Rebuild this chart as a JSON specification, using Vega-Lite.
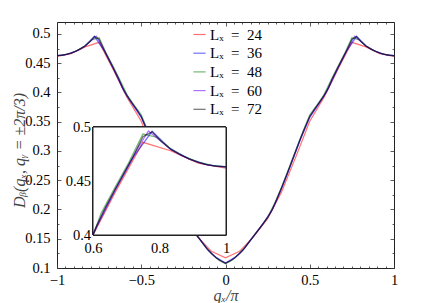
{
"$schema": "https://vega.github.io/schema/vega-lite/v6.json",
"width": 337, "height": 246,
"autosize": {"type": "none"},
"padding": {"left": 57, "top": 22, "right": 42, "bottom": 35},
"background": "white",
"config": {
 "view": {"stroke": "#222", "strokeWidth": 1},
 "axis": {"labelFont": "Liberation Serif", "labelFontSize": 14.5, "labelColor": "#000", "domain": false, "grid": false, "tickColor": "#333", "tickWidth": 0.8, "labelFlush": false, "labelOverlap": false, "zindex": 1, "titleFont": "Liberation Serif", "titleFontSize": 16, "titleFontWeight": "normal", "titleFontStyle": "italic", "titleColor": "#444"}
},
"data": {"values": [
{"L":24,"q":-1,"v":0.4618},{"L":24,"q":-0.9167,"v":0.4665},{"L":24,"q":-0.8333,"v":0.478},{"L":24,"q":-0.75,"v":0.4858},{"L":24,"q":-0.6667,"v":0.4395},{"L":24,"q":-0.5833,"v":0.391},{"L":24,"q":-0.5,"v":0.351},{"L":24,"q":-0.4167,"v":0.2895},{"L":24,"q":-0.3333,"v":0.2305},{"L":24,"q":-0.25,"v":0.1845},{"L":24,"q":-0.1667,"v":0.1535},{"L":24,"q":-0.0833,"v":0.1285},{"L":24,"q":0,"v":0.1175},{"L":24,"q":0.0833,"v":0.1285},{"L":24,"q":0.1667,"v":0.1535},{"L":24,"q":0.25,"v":0.1845},{"L":24,"q":0.3333,"v":0.2305},{"L":24,"q":0.4167,"v":0.2895},{"L":24,"q":0.5,"v":0.351},{"L":24,"q":0.5833,"v":0.391},{"L":24,"q":0.6667,"v":0.4395},{"L":24,"q":0.75,"v":0.4858},{"L":24,"q":0.8333,"v":0.478},{"L":24,"q":0.9167,"v":0.4665},{"L":24,"q":1,"v":0.4618},
{"L":36,"q":-1,"v":0.463},{"L":36,"q":-0.9444,"v":0.465},{"L":36,"q":-0.8889,"v":0.4705},{"L":36,"q":-0.8333,"v":0.4795},{"L":36,"q":-0.7778,"v":0.496},{"L":36,"q":-0.7222,"v":0.4725},{"L":36,"q":-0.6667,"v":0.4415},{"L":36,"q":-0.6111,"v":0.4075},{"L":36,"q":-0.5556,"v":0.3815},{"L":36,"q":-0.5,"v":0.3575},{"L":36,"q":-0.4444,"v":0.3195},{"L":36,"q":-0.3889,"v":0.2775},{"L":36,"q":-0.3333,"v":0.2365},{"L":36,"q":-0.2778,"v":0.1995},{"L":36,"q":-0.2222,"v":0.1755},{"L":36,"q":-0.1667,"v":0.1545},{"L":36,"q":-0.1111,"v":0.1335},{"L":36,"q":-0.0556,"v":0.1178},{"L":36,"q":0,"v":0.1085},{"L":36,"q":0.0556,"v":0.1178},{"L":36,"q":0.1111,"v":0.1335},{"L":36,"q":0.1667,"v":0.1545},{"L":36,"q":0.2222,"v":0.1755},{"L":36,"q":0.2778,"v":0.1995},{"L":36,"q":0.3333,"v":0.2365},{"L":36,"q":0.3889,"v":0.2775},{"L":36,"q":0.4444,"v":0.3195},{"L":36,"q":0.5,"v":0.3575},{"L":36,"q":0.5556,"v":0.3815},{"L":36,"q":0.6111,"v":0.4075},{"L":36,"q":0.6667,"v":0.4415},{"L":36,"q":0.7222,"v":0.4725},{"L":36,"q":0.7778,"v":0.496},{"L":36,"q":0.8333,"v":0.4795},{"L":36,"q":0.8889,"v":0.4705},{"L":36,"q":0.9444,"v":0.465},{"L":36,"q":1,"v":0.463},
{"L":48,"q":-1,"v":0.4632},{"L":48,"q":-0.9583,"v":0.4645},{"L":48,"q":-0.9167,"v":0.4675},{"L":48,"q":-0.875,"v":0.4725},{"L":48,"q":-0.8333,"v":0.48},{"L":48,"q":-0.7917,"v":0.4905},{"L":48,"q":-0.75,"v":0.4935},{"L":48,"q":-0.7083,"v":0.4675},{"L":48,"q":-0.6667,"v":0.4445},{"L":48,"q":-0.625,"v":0.4205},{"L":48,"q":-0.5833,"v":0.3955},{"L":48,"q":-0.5417,"v":0.378},{"L":48,"q":-0.5,"v":0.362},{"L":48,"q":-0.4583,"v":0.3325},{"L":48,"q":-0.4167,"v":0.3015},{"L":48,"q":-0.375,"v":0.2695},{"L":48,"q":-0.3333,"v":0.239},{"L":48,"q":-0.2917,"v":0.2105},{"L":48,"q":-0.25,"v":0.187},{"L":48,"q":-0.2083,"v":0.1705},{"L":48,"q":-0.1667,"v":0.1545},{"L":48,"q":-0.125,"v":0.1385},{"L":48,"q":-0.0833,"v":0.1245},{"L":48,"q":-0.0417,"v":0.1135},{"L":48,"q":0,"v":0.107},{"L":48,"q":0.0417,"v":0.1135},{"L":48,"q":0.0833,"v":0.1245},{"L":48,"q":0.125,"v":0.1385},{"L":48,"q":0.1667,"v":0.1545},{"L":48,"q":0.2083,"v":0.1705},{"L":48,"q":0.25,"v":0.187},{"L":48,"q":0.2917,"v":0.2105},{"L":48,"q":0.3333,"v":0.239},{"L":48,"q":0.375,"v":0.2695},{"L":48,"q":0.4167,"v":0.3015},{"L":48,"q":0.4583,"v":0.3325},{"L":48,"q":0.5,"v":0.362},{"L":48,"q":0.5417,"v":0.378},{"L":48,"q":0.5833,"v":0.3955},{"L":48,"q":0.625,"v":0.4205},{"L":48,"q":0.6667,"v":0.4445},{"L":48,"q":0.7083,"v":0.4675},{"L":48,"q":0.75,"v":0.4935},{"L":48,"q":0.7917,"v":0.4905},{"L":48,"q":0.8333,"v":0.48},{"L":48,"q":0.875,"v":0.4725},{"L":48,"q":0.9167,"v":0.4675},{"L":48,"q":0.9583,"v":0.4645},{"L":48,"q":1,"v":0.4632},
{"L":60,"q":-1,"v":0.463},{"L":60,"q":-0.9667,"v":0.4637},{"L":60,"q":-0.9333,"v":0.4657},{"L":60,"q":-0.9,"v":0.469},{"L":60,"q":-0.8667,"v":0.4735},{"L":60,"q":-0.8333,"v":0.4795},{"L":60,"q":-0.8,"v":0.488},{"L":60,"q":-0.7667,"v":0.4963},{"L":60,"q":-0.7333,"v":0.4797},{"L":60,"q":-0.7,"v":0.461},{"L":60,"q":-0.6667,"v":0.4423},{"L":60,"q":-0.6333,"v":0.423},{"L":60,"q":-0.6,"v":0.401},{"L":60,"q":-0.5667,"v":0.3867},{"L":60,"q":-0.5333,"v":0.3733},{"L":60,"q":-0.5,"v":0.359},{"L":60,"q":-0.4667,"v":0.3363},{"L":60,"q":-0.4333,"v":0.3123},{"L":60,"q":-0.4,"v":0.287},{"L":60,"q":-0.3667,"v":0.2617},{"L":60,"q":-0.3333,"v":0.2374},{"L":60,"q":-0.3,"v":0.214},{"L":60,"q":-0.2667,"v":0.1942},{"L":60,"q":-0.2333,"v":0.1797},{"L":60,"q":-0.2,"v":0.167},{"L":60,"q":-0.1667,"v":0.1543},{"L":60,"q":-0.1333,"v":0.1417},{"L":60,"q":-0.1,"v":0.129},{"L":60,"q":-0.0667,"v":0.1203},{"L":60,"q":-0.0333,"v":0.1133},{"L":60,"q":0,"v":0.1085},{"L":60,"q":0.0333,"v":0.1133},{"L":60,"q":0.0667,"v":0.1203},{"L":60,"q":0.1,"v":0.129},{"L":60,"q":0.1333,"v":0.1417},{"L":60,"q":0.1667,"v":0.1543},{"L":60,"q":0.2,"v":0.167},{"L":60,"q":0.2333,"v":0.1797},{"L":60,"q":0.2667,"v":0.1942},{"L":60,"q":0.3,"v":0.214},{"L":60,"q":0.3333,"v":0.2374},{"L":60,"q":0.3667,"v":0.2617},{"L":60,"q":0.4,"v":0.287},{"L":60,"q":0.4333,"v":0.3123},{"L":60,"q":0.4667,"v":0.3363},{"L":60,"q":0.5,"v":0.359},{"L":60,"q":0.5333,"v":0.3733},{"L":60,"q":0.5667,"v":0.3867},{"L":60,"q":0.6,"v":0.401},{"L":60,"q":0.6333,"v":0.423},{"L":60,"q":0.6667,"v":0.4423},{"L":60,"q":0.7,"v":0.461},{"L":60,"q":0.7333,"v":0.4797},{"L":60,"q":0.7667,"v":0.4963},{"L":60,"q":0.8,"v":0.488},{"L":60,"q":0.8333,"v":0.4795},{"L":60,"q":0.8667,"v":0.4735},{"L":60,"q":0.9,"v":0.469},{"L":60,"q":0.9333,"v":0.4657},{"L":60,"q":0.9667,"v":0.4637},{"L":60,"q":1,"v":0.463},
{"L":72,"q":-1,"v":0.463},{"L":72,"q":-0.9722,"v":0.4636},{"L":72,"q":-0.9444,"v":0.465},{"L":72,"q":-0.9167,"v":0.4673},{"L":72,"q":-0.8889,"v":0.4705},{"L":72,"q":-0.8611,"v":0.4746},{"L":72,"q":-0.8333,"v":0.4795},{"L":72,"q":-0.8056,"v":0.4866},{"L":72,"q":-0.7778,"v":0.4955},{"L":72,"q":-0.75,"v":0.491},{"L":72,"q":-0.7222,"v":0.4734},{"L":72,"q":-0.6944,"v":0.4579},{"L":72,"q":-0.6667,"v":0.4423},{"L":72,"q":-0.6389,"v":0.4263},{"L":72,"q":-0.6111,"v":0.4085},{"L":72,"q":-0.5833,"v":0.3937},{"L":72,"q":-0.5556,"v":0.3822},{"L":72,"q":-0.5278,"v":0.3711},{"L":72,"q":-0.5,"v":0.359},{"L":72,"q":-0.4722,"v":0.3401},{"L":72,"q":-0.4444,"v":0.3208},{"L":72,"q":-0.4167,"v":0.2997},{"L":72,"q":-0.3889,"v":0.2785},{"L":72,"q":-0.3611,"v":0.2574},{"L":72,"q":-0.3333,"v":0.2374},{"L":72,"q":-0.3056,"v":0.218},{"L":72,"q":-0.2778,"v":0.2},{"L":72,"q":-0.25,"v":0.186},{"L":72,"q":-0.2222,"v":0.1754},{"L":72,"q":-0.1944,"v":0.1649},{"L":72,"q":-0.1667,"v":0.1543},{"L":72,"q":-0.1389,"v":0.1438},{"L":72,"q":-0.1111,"v":0.1332},{"L":72,"q":-0.0833,"v":0.1247},{"L":72,"q":-0.0556,"v":0.1175},{"L":72,"q":-0.0278,"v":0.1124},{"L":72,"q":0,"v":0.108},{"L":72,"q":0.0278,"v":0.1124},{"L":72,"q":0.0556,"v":0.1175},{"L":72,"q":0.0833,"v":0.1247},{"L":72,"q":0.1111,"v":0.1332},{"L":72,"q":0.1389,"v":0.1438},{"L":72,"q":0.1667,"v":0.1543},{"L":72,"q":0.1944,"v":0.1649},{"L":72,"q":0.2222,"v":0.1754},{"L":72,"q":0.25,"v":0.186},{"L":72,"q":0.2778,"v":0.2},{"L":72,"q":0.3056,"v":0.218},{"L":72,"q":0.3333,"v":0.2374},{"L":72,"q":0.3611,"v":0.2574},{"L":72,"q":0.3889,"v":0.2785},{"L":72,"q":0.4167,"v":0.2997},{"L":72,"q":0.4444,"v":0.3208},{"L":72,"q":0.4722,"v":0.3401},{"L":72,"q":0.5,"v":0.359},{"L":72,"q":0.5278,"v":0.3711},{"L":72,"q":0.5556,"v":0.3822},{"L":72,"q":0.5833,"v":0.3937},{"L":72,"q":0.6111,"v":0.4085},{"L":72,"q":0.6389,"v":0.4263},{"L":72,"q":0.6667,"v":0.4423},{"L":72,"q":0.6944,"v":0.4579},{"L":72,"q":0.7222,"v":0.4734},{"L":72,"q":0.75,"v":0.491},{"L":72,"q":0.7778,"v":0.4955},{"L":72,"q":0.8056,"v":0.4866},{"L":72,"q":0.8333,"v":0.4795},{"L":72,"q":0.8611,"v":0.4746},{"L":72,"q":0.8889,"v":0.4705},{"L":72,"q":0.9167,"v":0.4673},{"L":72,"q":0.9444,"v":0.465},{"L":72,"q":0.9722,"v":0.4636},{"L":72,"q":1,"v":0.463}
]},
"layer": [
 {
  "layer": [
   {
    "mark": {"type": "line", "strokeWidth": 1.25, "opacity": 0.55},
    "encoding": {
     "x": {"field": "q", "type": "quantitative", "scale": {"domain": [-1, 1], "nice": false, "zero": false},
      "axis": {"orient": "bottom", "values": [-1, -0.5, 0, 0.5, 1], "format": "~g", "tickSize": -4, "labelPadding": 16, "labelBaseline": "middle", "title": "qₓ/π", "titleY": 27, "titleBaseline": "middle"}},
     "y": {"field": "v", "type": "quantitative", "scale": {"domain": [0.1, 0.5205], "nice": false, "zero": false},
      "axis": {"orient": "left", "values": [0.1, 0.15, 0.2, 0.25, 0.3, 0.35, 0.4, 0.45, 0.5], "format": "~g", "tickSize": -4, "labelPadding": 11, "title": "Dᵦ(qₓ, qᵧ = ±2π/3)", "titleX": -38, "titleY": 128, "titleBaseline": "middle", "titleAngle": -90}},
     "color": {"field": "L", "type": "nominal",
      "scale": {"domain": [24, 36, 48, 60, 72], "range": ["#ff0000", "#0000ff", "#008000", "#6a00ff", "#000000"]},
      "legend": {"orient": "none", "legendX": 135, "legendY": 5, "title": null, "padding": 0, "symbolType": "stroke", "symbolSize": 150, "symbolStrokeWidth": 1.2, "symbolOpacity": 0.4, "labelFont": "Liberation Serif", "labelFontSize": 15, "labelColor": "#000", "labelOffset": 3, "rowPadding": 2.7, "labelExpr": "'Lₓ\u2002=\u2002' + datum.label"}}
    }
   },
   {
    "mark": {"type": "point", "opacity": 0},
    "encoding": {
     "x": {"field": "q", "type": "quantitative", "axis": {"orient": "bottom", "values": [-0.95,-0.9,-0.85,-0.8,-0.75,-0.7,-0.65,-0.6,-0.55,-0.45,-0.4,-0.35,-0.3,-0.25,-0.2,-0.15,-0.1,-0.05,0.05,0.1,0.15,0.2,0.25,0.3,0.35,0.4,0.45,0.55,0.6,0.65,0.7,0.75,0.8,0.85,0.9,0.95], "tickSize": -2, "labels": false, "title": null}},
     "y": {"field": "v", "type": "quantitative", "axis": {"orient": "left", "values": [0.125,0.175,0.225,0.275,0.325,0.375,0.425,0.475], "tickSize": -2, "labels": false, "title": null}}
    }
   },
   {
    "mark": {"type": "point", "opacity": 0},
    "encoding": {
     "x": {"field": "q", "type": "quantitative", "axis": {"orient": "top", "values": [-1, -0.5, 0, 0.5, 1], "tickSize": -4, "labels": false, "title": null}},
     "y": {"field": "v", "type": "quantitative", "axis": {"orient": "right", "values": [0.1, 0.15, 0.2, 0.25, 0.3, 0.35, 0.4, 0.45, 0.5], "tickSize": -4, "labels": false, "title": null}}
    }
   },
   {
    "mark": {"type": "point", "opacity": 0},
    "encoding": {
     "x": {"field": "q", "type": "quantitative", "axis": {"orient": "top", "values": [-0.95,-0.9,-0.85,-0.8,-0.75,-0.7,-0.65,-0.6,-0.55,-0.45,-0.4,-0.35,-0.3,-0.25,-0.2,-0.15,-0.1,-0.05,0.05,0.1,0.15,0.2,0.25,0.3,0.35,0.4,0.45,0.55,0.6,0.65,0.7,0.75,0.8,0.85,0.9,0.95], "tickSize": -2, "labels": false, "title": null}},
     "y": {"field": "v", "type": "quantitative", "axis": {"orient": "right", "values": [0.125,0.175,0.225,0.275,0.325,0.375,0.425,0.475], "tickSize": -2, "labels": false, "title": null}}
    }
   }
  ],
  "resolve": {"axis": {"x": "independent", "y": "independent"}}
 },
 {
  "transform": [{"filter": {"field": "q", "gte": 0.55}}],
  "layer": [
   {
    "mark": {"type": "rect", "fill": "white", "stroke": "#222", "strokeWidth": 1},
    "encoding": {
     "x": {"datum": 0.6, "type": "quantitative", "scale": {"domain": [0.6, 1], "range": [36, 169], "nice": false, "zero": false, "clamp": true},
      "axis": {"orient": "bottom", "offset": -33, "values": [0.6, 0.8, 1], "format": "~g", "tickSize": -3, "labelPadding": 16, "labelBaseline": "middle", "title": null}},
     "x2": {"datum": 1},
     "y": {"datum": 0.4, "type": "quantitative", "scale": {"domain": [0.4, 0.5], "range": [213, 105], "nice": false, "zero": false, "clamp": true},
      "axis": {"orient": "left", "offset": -36, "values": [0.4, 0.45, 0.5], "format": "~g", "tickSize": -3, "labelPadding": 5.5, "title": null}},
     "y2": {"datum": 0.5}
    }
   },
   {
    "mark": {"type": "line", "strokeWidth": 1.25, "opacity": 0.55},
    "encoding": {
     "x": {"field": "q", "type": "quantitative", "axis": {"orient": "top", "offset": -105, "values": [0.6, 0.8, 1], "tickSize": -3, "labels": false, "title": null}},
     "y": {"field": "v", "type": "quantitative", "axis": {"orient": "right", "offset": -168, "values": [0.4, 0.45, 0.5], "tickSize": -3, "labels": false, "title": null}},
     "color": {"field": "L", "type": "nominal"}
    }
   },
   {
    "mark": {"type": "point", "opacity": 0},
    "encoding": {
     "x": {"field": "q", "type": "quantitative", "axis": {"orient": "bottom", "offset": -33, "values": [0.62,0.64,0.66,0.68,0.7,0.72,0.74,0.76,0.78,0.82,0.84,0.86,0.88,0.9,0.92,0.94,0.96,0.98], "tickSize": -1.5, "labels": false, "title": null}},
     "y": {"field": "v", "type": "quantitative", "axis": {"orient": "left", "offset": -36, "values": [0.405,0.41,0.415,0.42,0.425,0.43,0.435,0.44,0.445,0.455,0.46,0.465,0.47,0.475,0.48,0.485,0.49,0.495], "tickSize": -1.5, "labels": false, "title": null}}
    }
   },
   {
    "mark": {"type": "point", "opacity": 0},
    "encoding": {
     "x": {"field": "q", "type": "quantitative", "axis": {"orient": "top", "offset": -105, "values": [0.62,0.64,0.66,0.68,0.7,0.72,0.74,0.76,0.78,0.82,0.84,0.86,0.88,0.9,0.92,0.94,0.96,0.98], "tickSize": -1.5, "labels": false, "title": null}},
     "y": {"field": "v", "type": "quantitative", "axis": {"orient": "right", "offset": -168, "values": [0.405,0.41,0.415,0.42,0.425,0.43,0.435,0.44,0.445,0.455,0.46,0.465,0.47,0.475,0.48,0.485,0.49,0.495], "tickSize": -1.5, "labels": false, "title": null}}
    }
   }
  ],
  "resolve": {"axis": {"x": "independent", "y": "independent"}}
 }
],
"resolve": {"scale": {"x": "independent", "y": "independent"}}
}
